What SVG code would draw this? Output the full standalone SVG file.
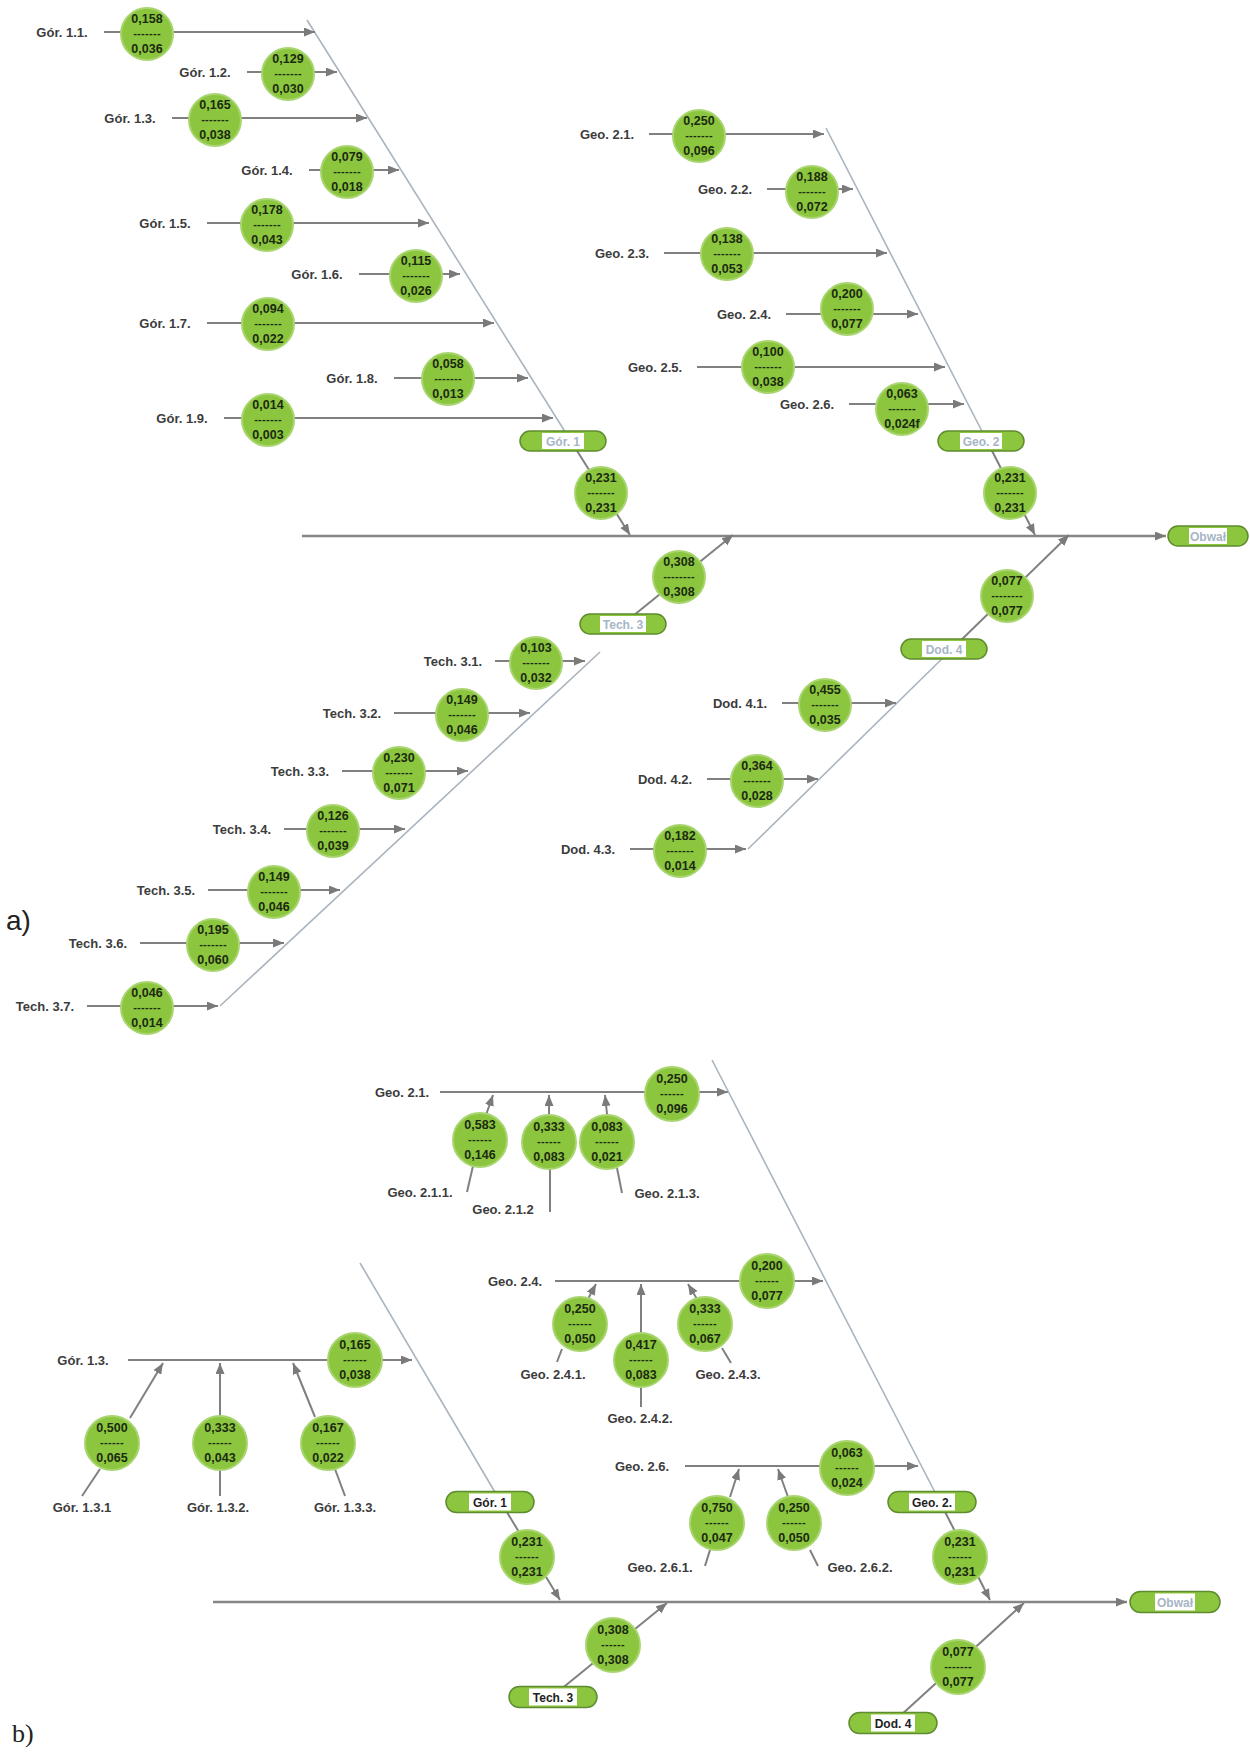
<svg xmlns="http://www.w3.org/2000/svg" width="1250" height="1755" viewBox="0 0 1250 1755">
<defs>
<style>
.c{fill:#8cc63f;stroke:#a8d56f;stroke-width:2}
.n{font-family:"Liberation Sans",Arial,sans-serif;font-weight:bold;font-size:12.5px;fill:#1b2a10;text-anchor:middle}
.d{font-size:11px;letter-spacing:0.3px}
.l{font-family:"Liberation Sans",Arial,sans-serif;font-weight:bold;font-size:13px;fill:#3c3c3c;text-anchor:middle}
.br{stroke:#808080;stroke-width:2;fill:none}
.sp{stroke:#aab4be;stroke-width:1.6;fill:none}
.ax{stroke:#868686;stroke-width:2.6;fill:none}
.bx{fill:#8cc63f;stroke:#5e8c2e;stroke-width:1.5}
.bw{fill:#ffffff}
.bt{font-family:"Liberation Sans",Arial,sans-serif;font-weight:bold;font-size:12px;text-anchor:middle}
.ta{fill:#a6b5c6}
.tb{fill:#1e1e1e}
</style>
<marker id="ah" markerUnits="userSpaceOnUse" markerWidth="12" markerHeight="10" refX="11" refY="4.5" orient="auto">
<path d="M0,0 L11,4.5 L0,9 z" fill="#7a7a7a"/>
</marker>
</defs>
<rect width="1250" height="1755" fill="#ffffff"/>

<g id="connectors">
<line class="sp" x1="307" y1="20" x2="574" y2="446"/>
<line class="br" x1="574" y1="446" x2="630" y2="535" marker-end="url(#ah)"/>
<line class="br" x1="104" y1="32" x2="315" y2="32" marker-end="url(#ah)"/>
<line class="br" x1="247" y1="72" x2="337" y2="72" marker-end="url(#ah)"/>
<line class="br" x1="172" y1="118" x2="367" y2="118" marker-end="url(#ah)"/>
<line class="br" x1="309" y1="170" x2="399" y2="170" marker-end="url(#ah)"/>
<line class="br" x1="207" y1="223" x2="429" y2="223" marker-end="url(#ah)"/>
<line class="br" x1="359" y1="274" x2="460" y2="274" marker-end="url(#ah)"/>
<line class="br" x1="207" y1="323" x2="494" y2="323" marker-end="url(#ah)"/>
<line class="br" x1="394" y1="378" x2="528" y2="378" marker-end="url(#ah)"/>
<line class="br" x1="224" y1="418" x2="553" y2="418" marker-end="url(#ah)"/>
<line class="sp" x1="826" y1="128" x2="987" y2="441"/>
<line class="br" x1="987" y1="441" x2="1035" y2="535" marker-end="url(#ah)"/>
<line class="br" x1="649" y1="134" x2="824" y2="134" marker-end="url(#ah)"/>
<line class="br" x1="767" y1="189" x2="853" y2="189" marker-end="url(#ah)"/>
<line class="br" x1="664" y1="253" x2="887" y2="253" marker-end="url(#ah)"/>
<line class="br" x1="786" y1="314" x2="918" y2="314" marker-end="url(#ah)"/>
<line class="br" x1="697" y1="367" x2="945" y2="367" marker-end="url(#ah)"/>
<line class="br" x1="849" y1="404" x2="964" y2="404" marker-end="url(#ah)"/>
<line class="ax" x1="302" y1="536" x2="1166" y2="536" marker-end="url(#ah)"/>
<line class="sp" x1="220" y1="1006" x2="600" y2="652"/>
<line class="br" x1="623" y1="624" x2="733" y2="535" marker-end="url(#ah)"/>
<line class="br" x1="495" y1="661" x2="585" y2="661" marker-end="url(#ah)"/>
<line class="br" x1="394" y1="713" x2="530" y2="713" marker-end="url(#ah)"/>
<line class="br" x1="342" y1="771" x2="468" y2="771" marker-end="url(#ah)"/>
<line class="br" x1="284" y1="829" x2="405" y2="829" marker-end="url(#ah)"/>
<line class="br" x1="208" y1="890" x2="340" y2="890" marker-end="url(#ah)"/>
<line class="br" x1="140" y1="943" x2="284" y2="943" marker-end="url(#ah)"/>
<line class="br" x1="87" y1="1006" x2="218" y2="1006" marker-end="url(#ah)"/>
<line class="sp" x1="748" y1="849" x2="952" y2="649"/>
<line class="br" x1="952" y1="649" x2="1069" y2="535" marker-end="url(#ah)"/>
<line class="br" x1="782" y1="703" x2="896" y2="703" marker-end="url(#ah)"/>
<line class="br" x1="707" y1="779" x2="818" y2="779" marker-end="url(#ah)"/>
<line class="br" x1="630" y1="849" x2="746" y2="849" marker-end="url(#ah)"/>

<line class="br" x1="128" y1="1360" x2="412" y2="1360" marker-end="url(#ah)"/>
<line class="br" x1="130" y1="1418" x2="163" y2="1363" marker-end="url(#ah)"/>
<line class="br" x1="220" y1="1416" x2="220" y2="1363" marker-end="url(#ah)"/>
<line class="br" x1="315" y1="1417" x2="293" y2="1363" marker-end="url(#ah)"/>
<line class="br" x1="100" y1="1469" x2="82" y2="1496"/>
<line class="br" x1="220" y1="1470" x2="220" y2="1496"/>
<line class="br" x1="335" y1="1469" x2="345" y2="1496"/>
<line class="sp" x1="360" y1="1263" x2="499" y2="1499"/>
<line class="br" x1="499" y1="1499" x2="560" y2="1600" marker-end="url(#ah)"/>
<line class="br" x1="440" y1="1092" x2="728" y2="1092" marker-end="url(#ah)"/>
<line class="br" x1="486" y1="1115" x2="493" y2="1095" marker-end="url(#ah)"/>
<line class="br" x1="549" y1="1114" x2="549" y2="1095" marker-end="url(#ah)"/>
<line class="br" x1="607" y1="1114" x2="605" y2="1095" marker-end="url(#ah)"/>
<line class="br" x1="473" y1="1166" x2="467" y2="1192"/>
<line class="br" x1="550" y1="1168" x2="550" y2="1212"/>
<line class="br" x1="617" y1="1168" x2="622" y2="1193"/>
<line class="br" x1="555" y1="1281" x2="823" y2="1281" marker-end="url(#ah)"/>
<line class="br" x1="588" y1="1299" x2="596" y2="1284" marker-end="url(#ah)"/>
<line class="br" x1="641" y1="1333" x2="641" y2="1284" marker-end="url(#ah)"/>
<line class="br" x1="697" y1="1299" x2="688" y2="1284" marker-end="url(#ah)"/>
<line class="br" x1="562" y1="1349" x2="557" y2="1362"/>
<line class="br" x1="641" y1="1387" x2="641" y2="1407"/>
<line class="br" x1="722" y1="1348" x2="731" y2="1363"/>
<line class="br" x1="685" y1="1466" x2="918" y2="1466" marker-end="url(#ah)"/>
<line class="br" x1="730" y1="1497" x2="739" y2="1469" marker-end="url(#ah)"/>
<line class="br" x1="788" y1="1497" x2="778" y2="1469" marker-end="url(#ah)"/>
<line class="br" x1="710" y1="1550" x2="705" y2="1566"/>
<line class="br" x1="810" y1="1550" x2="818" y2="1566"/>
<line class="sp" x1="712" y1="1060" x2="940" y2="1502"/>
<line class="br" x1="940" y1="1502" x2="990" y2="1600" marker-end="url(#ah)"/>
<line class="br" x1="560" y1="1690" x2="667" y2="1603" marker-end="url(#ah)"/>
<line class="br" x1="900" y1="1716" x2="1024" y2="1603" marker-end="url(#ah)"/>
<line class="ax" x1="213" y1="1602" x2="1127" y2="1602" marker-end="url(#ah)"/>
</g>

<g id="labels-a">
<text class="l" x="62" y="36.5">Gór. 1.1.</text>
<text class="l" x="205" y="76.5">Gór. 1.2.</text>
<text class="l" x="130" y="122.5">Gór. 1.3.</text>
<text class="l" x="267" y="174.5">Gór. 1.4.</text>
<text class="l" x="165" y="227.5">Gór. 1.5.</text>
<text class="l" x="317" y="278.5">Gór. 1.6.</text>
<text class="l" x="165" y="327.5">Gór. 1.7.</text>
<text class="l" x="352" y="382.5">Gór. 1.8.</text>
<text class="l" x="182" y="422.5">Gór. 1.9.</text>
<text class="l" x="607" y="138.5">Geo. 2.1.</text>
<text class="l" x="725" y="193.5">Geo. 2.2.</text>
<text class="l" x="622" y="257.5">Geo. 2.3.</text>
<text class="l" x="744" y="318.5">Geo. 2.4.</text>
<text class="l" x="655" y="371.5">Geo. 2.5.</text>
<text class="l" x="807" y="408.5">Geo. 2.6.</text>
<text class="l" x="453" y="665.5">Tech. 3.1.</text>
<text class="l" x="352" y="717.5">Tech. 3.2.</text>
<text class="l" x="300" y="775.5">Tech. 3.3.</text>
<text class="l" x="242" y="833.5">Tech. 3.4.</text>
<text class="l" x="166" y="894.5">Tech. 3.5.</text>
<text class="l" x="98" y="947.5">Tech. 3.6.</text>
<text class="l" x="45" y="1010.5">Tech. 3.7.</text>
<text class="l" x="740" y="707.5">Dod. 4.1.</text>
<text class="l" x="665" y="783.5">Dod. 4.2.</text>
<text class="l" x="588" y="853.5">Dod. 4.3.</text>
<text x="6" y="930" font-family="Liberation Sans, Arial, sans-serif" font-size="28" fill="#222">a)</text>
</g>

<g id="g11" transform="translate(147,34)"><circle class="c" r="26"/><text class="n" y="-11">0,158</text><text class="n d" y="3">-------</text><text class="n" y="19">0,036</text></g>
<g id="g12" transform="translate(288,74)"><circle class="c" r="26"/><text class="n" y="-11">0,129</text><text class="n d" y="3">-------</text><text class="n" y="19">0,030</text></g>
<g id="g13" transform="translate(215,120)"><circle class="c" r="26"/><text class="n" y="-11">0,165</text><text class="n d" y="3">-------</text><text class="n" y="19">0,038</text></g>
<g id="g14" transform="translate(347,172)"><circle class="c" r="26"/><text class="n" y="-11">0,079</text><text class="n d" y="3">-------</text><text class="n" y="19">0,018</text></g>
<g id="g15" transform="translate(267,225)"><circle class="c" r="26"/><text class="n" y="-11">0,178</text><text class="n d" y="3">-------</text><text class="n" y="19">0,043</text></g>
<g id="g16" transform="translate(416,276)"><circle class="c" r="26"/><text class="n" y="-11">0,115</text><text class="n d" y="3">-------</text><text class="n" y="19">0,026</text></g>
<g id="g17" transform="translate(268,324)"><circle class="c" r="26"/><text class="n" y="-11">0,094</text><text class="n d" y="3">-------</text><text class="n" y="19">0,022</text></g>
<g id="g18" transform="translate(448,379)"><circle class="c" r="26"/><text class="n" y="-11">0,058</text><text class="n d" y="3">-------</text><text class="n" y="19">0,013</text></g>
<g id="g19" transform="translate(268,420)"><circle class="c" r="26"/><text class="n" y="-11">0,014</text><text class="n d" y="3">-------</text><text class="n" y="19">0,003</text></g>
<g id="g1box" transform="translate(563,441)"><rect class="bx" x="-43" y="-10" width="86" height="20" rx="10"/><rect class="bw" x="-21" y="-8" width="42" height="16"/><text class="bt ta" y="4.5">Gór. 1</text></g>
<g id="g1res" transform="translate(601,493)"><circle class="c" r="26"/><text class="n" y="-11">0,231</text><text class="n d" y="3">-------</text><text class="n" y="19">0,231</text></g>

<g id="e21" transform="translate(699,136)"><circle class="c" r="26"/><text class="n" y="-11">0,250</text><text class="n d" y="3">-------</text><text class="n" y="19">0,096</text></g>
<g id="e22" transform="translate(812,192)"><circle class="c" r="26"/><text class="n" y="-11">0,188</text><text class="n d" y="3">-------</text><text class="n" y="19">0,072</text></g>
<g id="e23" transform="translate(727,254)"><circle class="c" r="26"/><text class="n" y="-11">0,138</text><text class="n d" y="3">-------</text><text class="n" y="19">0,053</text></g>
<g id="e24" transform="translate(847,309)"><circle class="c" r="26"/><text class="n" y="-11">0,200</text><text class="n d" y="3">-------</text><text class="n" y="19">0,077</text></g>
<g id="e25" transform="translate(768,367)"><circle class="c" r="26"/><text class="n" y="-11">0,100</text><text class="n d" y="3">-------</text><text class="n" y="19">0,038</text></g>
<g id="e26" transform="translate(902,409)"><circle class="c" r="26"/><text class="n" y="-11">0,063</text><text class="n d" y="3">-------</text><text class="n" y="19">0,024f</text></g>
<g id="e2box" transform="translate(981,441)"><rect class="bx" x="-43" y="-10" width="86" height="20" rx="10"/><rect class="bw" x="-21" y="-8" width="42" height="16"/><text class="bt ta" y="4.5">Geo. 2</text></g>
<g id="e2res" transform="translate(1010,493)"><circle class="c" r="26"/><text class="n" y="-11">0,231</text><text class="n d" y="3">-------</text><text class="n" y="19">0,231</text></g>

<g id="obwal-a" transform="translate(1208,536)"><rect class="bx" x="-40" y="-10" width="80" height="20" rx="10"/><rect class="bw" x="-19" y="-8" width="38" height="16"/><text class="bt ta" y="4.5">Obwał</text></g>

<g id="t3box" transform="translate(623,624)"><rect class="bx" x="-43" y="-10" width="86" height="20" rx="10"/><rect class="bw" x="-23" y="-8" width="46" height="16"/><text class="bt ta" y="4.5">Tech. 3</text></g>
<g id="t3res" transform="translate(679,577)"><circle class="c" r="26"/><text class="n" y="-11">0,308</text><text class="n d" y="3">--------</text><text class="n" y="19">0,308</text></g>
<g id="t31" transform="translate(536,663)"><circle class="c" r="26"/><text class="n" y="-11">0,103</text><text class="n d" y="3">-------</text><text class="n" y="19">0,032</text></g>
<g id="t32" transform="translate(462,715)"><circle class="c" r="26"/><text class="n" y="-11">0,149</text><text class="n d" y="3">-------</text><text class="n" y="19">0,046</text></g>
<g id="t33" transform="translate(399,773)"><circle class="c" r="26"/><text class="n" y="-11">0,230</text><text class="n d" y="3">-------</text><text class="n" y="19">0,071</text></g>
<g id="t34" transform="translate(333,831)"><circle class="c" r="26"/><text class="n" y="-11">0,126</text><text class="n d" y="3">-------</text><text class="n" y="19">0,039</text></g>
<g id="t35" transform="translate(274,892)"><circle class="c" r="26"/><text class="n" y="-11">0,149</text><text class="n d" y="3">-------</text><text class="n" y="19">0,046</text></g>
<g id="t36" transform="translate(213,945)"><circle class="c" r="26"/><text class="n" y="-11">0,195</text><text class="n d" y="3">-------</text><text class="n" y="19">0,060</text></g>
<g id="t37" transform="translate(147,1008)"><circle class="c" r="26"/><text class="n" y="-11">0,046</text><text class="n d" y="3">-------</text><text class="n" y="19">0,014</text></g>

<g id="d4box" transform="translate(944,649)"><rect class="bx" x="-43" y="-10" width="86" height="20" rx="10"/><rect class="bw" x="-22" y="-8" width="44" height="16"/><text class="bt ta" y="4.5">Dod. 4</text></g>
<g id="d4res" transform="translate(1007,596)"><circle class="c" r="26"/><text class="n" y="-11">0,077</text><text class="n d" y="3">--------</text><text class="n" y="19">0,077</text></g>
<g id="d41" transform="translate(825,705)"><circle class="c" r="26"/><text class="n" y="-11">0,455</text><text class="n d" y="3">-------</text><text class="n" y="19">0,035</text></g>
<g id="d42" transform="translate(757,781)"><circle class="c" r="26"/><text class="n" y="-11">0,364</text><text class="n d" y="3">-------</text><text class="n" y="19">0,028</text></g>
<g id="d43" transform="translate(680,851)"><circle class="c" r="26"/><text class="n" y="-11">0,182</text><text class="n d" y="3">-------</text><text class="n" y="19">0,014</text></g>

<g id="labels-b">
<text class="l" x="402" y="1096.5">Geo. 2.1.</text>
<text class="l" x="420" y="1196.5">Geo. 2.1.1.</text>
<text class="l" x="503" y="1213.5">Geo. 2.1.2</text>
<text class="l" x="667" y="1197.5">Geo. 2.1.3.</text>
<text class="l" x="515" y="1285.5">Geo. 2.4.</text>
<text class="l" x="553" y="1378.5">Geo. 2.4.1.</text>
<text class="l" x="640" y="1422.5">Geo. 2.4.2.</text>
<text class="l" x="728" y="1378.5">Geo. 2.4.3.</text>
<text class="l" x="642" y="1470.5">Geo. 2.6.</text>
<text class="l" x="660" y="1571.5">Geo. 2.6.1.</text>
<text class="l" x="860" y="1571.5">Geo. 2.6.2.</text>
<text class="l" x="83" y="1364.5">Gór. 1.3.</text>
<text class="l" x="82" y="1511.5">Gór. 1.3.1</text>
<text class="l" x="218" y="1511.5">Gór. 1.3.2.</text>
<text class="l" x="345" y="1511.5">Gór. 1.3.3.</text>
<text x="12" y="1742" font-family="Liberation Serif, Times New Roman, serif" font-size="26" fill="#222">b)</text>
</g>

<g id="b21" transform="translate(672,1094)"><circle class="c" r="27"/><text class="n" y="-11">0,250</text><text class="n d" y="3">------</text><text class="n" y="19">0,096</text></g>
<g id="b211" transform="translate(480,1140)"><circle class="c" r="27"/><text class="n" y="-11">0,583</text><text class="n d" y="3">------</text><text class="n" y="19">0,146</text></g>
<g id="b212" transform="translate(549,1142)"><circle class="c" r="27"/><text class="n" y="-11">0,333</text><text class="n d" y="3">------</text><text class="n" y="19">0,083</text></g>
<g id="b213" transform="translate(607,1142)"><circle class="c" r="27"/><text class="n" y="-11">0,083</text><text class="n d" y="3">------</text><text class="n" y="19">0,021</text></g>

<g id="b24" transform="translate(767,1281)"><circle class="c" r="27"/><text class="n" y="-11">0,200</text><text class="n d" y="3">------</text><text class="n" y="19">0,077</text></g>
<g id="b241" transform="translate(580,1324)"><circle class="c" r="27"/><text class="n" y="-11">0,250</text><text class="n d" y="3">------</text><text class="n" y="19">0,050</text></g>
<g id="b242" transform="translate(641,1360)"><circle class="c" r="27"/><text class="n" y="-11">0,417</text><text class="n d" y="3">------</text><text class="n" y="19">0,083</text></g>
<g id="b243" transform="translate(705,1324)"><circle class="c" r="27"/><text class="n" y="-11">0,333</text><text class="n d" y="3">------</text><text class="n" y="19">0,067</text></g>

<g id="b26" transform="translate(847,1468)"><circle class="c" r="27"/><text class="n" y="-11">0,063</text><text class="n d" y="3">------</text><text class="n" y="19">0,024</text></g>
<g id="b261" transform="translate(717,1523)"><circle class="c" r="27"/><text class="n" y="-11">0,750</text><text class="n d" y="3">------</text><text class="n" y="19">0,047</text></g>
<g id="b262" transform="translate(794,1523)"><circle class="c" r="27"/><text class="n" y="-11">0,250</text><text class="n d" y="3">------</text><text class="n" y="19">0,050</text></g>

<g id="b13" transform="translate(355,1360)"><circle class="c" r="27"/><text class="n" y="-11">0,165</text><text class="n d" y="3">------</text><text class="n" y="19">0,038</text></g>
<g id="b131" transform="translate(112,1443)"><circle class="c" r="27"/><text class="n" y="-11">0,500</text><text class="n d" y="3">------</text><text class="n" y="19">0,065</text></g>
<g id="b132" transform="translate(220,1443)"><circle class="c" r="27"/><text class="n" y="-11">0,333</text><text class="n d" y="3">------</text><text class="n" y="19">0,043</text></g>
<g id="b133" transform="translate(328,1443)"><circle class="c" r="27"/><text class="n" y="-11">0,167</text><text class="n d" y="3">------</text><text class="n" y="19">0,022</text></g>

<g id="bg1box" transform="translate(490,1502)"><rect class="bx" x="-44" y="-10.5" width="88" height="21" rx="10.5"/><rect class="bw" x="-21" y="-8.5" width="42" height="17"/><text class="bt tb" y="4.5">Gór. 1</text></g>
<g id="bg1res" transform="translate(527,1557)"><circle class="c" r="27"/><text class="n" y="-11">0,231</text><text class="n d" y="3">------</text><text class="n" y="19">0,231</text></g>
<g id="be2box" transform="translate(932,1502)"><rect class="bx" x="-44" y="-10.5" width="88" height="21" rx="10.5"/><rect class="bw" x="-23" y="-8.5" width="46" height="17"/><text class="bt tb" y="4.5">Geo. 2.</text></g>
<g id="be2res" transform="translate(960,1557)"><circle class="c" r="27"/><text class="n" y="-11">0,231</text><text class="n d" y="3">------</text><text class="n" y="19">0,231</text></g>
<g id="bt3box" transform="translate(553,1697)"><rect class="bx" x="-44" y="-10.5" width="88" height="21" rx="10.5"/><rect class="bw" x="-24" y="-8.5" width="48" height="17"/><text class="bt tb" y="4.5">Tech. 3</text></g>
<g id="bt3res" transform="translate(613,1645)"><circle class="c" r="27"/><text class="n" y="-11">0,308</text><text class="n d" y="3">------</text><text class="n" y="19">0,308</text></g>
<g id="bd4box" transform="translate(893,1723)"><rect class="bx" x="-44" y="-10.5" width="88" height="21" rx="10.5"/><rect class="bw" x="-22" y="-8.5" width="44" height="17"/><text class="bt tb" y="4.5">Dod. 4</text></g>
<g id="bd4res" transform="translate(958,1667)"><circle class="c" r="27"/><text class="n" y="-11">0,077</text><text class="n d" y="3">-------</text><text class="n" y="19">0,077</text></g>
<g id="obwal-b" transform="translate(1175,1602)"><rect class="bx" x="-45" y="-10.5" width="90" height="21" rx="10.5"/><rect class="bw" x="-20" y="-8.5" width="40" height="17"/><text class="bt ta" y="4.5">Obwał</text></g>
</svg>
